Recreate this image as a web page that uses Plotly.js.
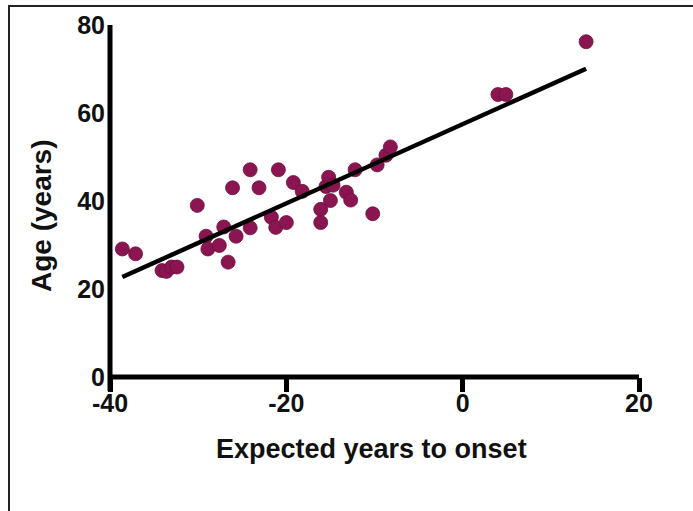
<!DOCTYPE html>
<html>
<head>
<meta charset="utf-8">
<script src="https://cdn.plot.ly/plotly-3.0.1.min.js"></script>
<style>
html,body{margin:0;padding:0;background:#fff;}
#chart{width:693px;height:511px;}
</style>
</head>
<body>
<div id="chart"></div>
<script>
// Expected years to onset (x) and age in years (y)
const yearsToOnset = [-38.6, -37.1, -34.1, -33.6, -33.0, -32.4, -30.1, -29.1, -28.9, -27.6,
  -27.1, -26.6, -26.1, -25.7, -24.1, -24.1, -23.1, -21.7, -21.2, -20.9,
  -20.0, -19.2, -18.2, -16.1, -16.1, -15.5, -15.2, -15.0, -14.7, -13.2,
  -12.7, -12.2, -10.2, -9.7, -8.7, -8.2, 4.0, 4.9, 14.0];
const ageYears = [29.1, 28.0, 24.2, 24.0, 25.0, 25.0, 39.0, 32.0, 29.1, 29.9,
  34.1, 26.1, 43.0, 32.0, 47.1, 33.9, 43.0, 36.3, 34.0, 47.1,
  35.1, 44.2, 42.2, 38.1, 35.1, 43.3, 45.4, 40.1, 43.6, 42.0,
  40.2, 47.1, 37.1, 48.2, 50.4, 52.3, 64.2, 64.2, 76.2];
const xTickVals = [-40, -20, 0, 20];
const yTickVals = [0, 20, 40, 60, 80];
const xTitle = 'Expected years to onset';
const yTitle = 'Age (years)';

// Least-squares fit
const n = yearsToOnset.length;
const mx = yearsToOnset.reduce((a, b) => a + b, 0) / n;
const my = ageYears.reduce((a, b) => a + b, 0) / n;
let sxy = 0, sxx = 0;
for (let i = 0; i < n; i++) {
  sxy += (yearsToOnset[i] - mx) * (ageYears[i] - my);
  sxx += (yearsToOnset[i] - mx) ** 2;
}
const slope = sxy / sxx;
const intercept = my - slope * mx;
const xMin = Math.min(...yearsToOnset), xMax = Math.max(...yearsToOnset);
const fitX = [xMin, xMax];
const fitY = fitX.map(v => intercept + slope * v);

const L = 110, R = 54, T = 25, B = 134;
const W = 693 - L - R, H = 511 - T - B;
const px = v => (v - L) / W;       // pixel x -> paper x
const py = v => (511 - B - v) / H; // pixel y -> paper y

const fam = 'Liberation Sans, Arial, sans-serif';
const font = {family: fam, color: '#111', weight: 'bold'};
const tickFont = {family: fam, size: 25, color: '#111', weight: 'bold'};

const traces = [
  {x: fitX, y: fitY, xaxis: 'x2', yaxis: 'y', mode: 'lines', type: 'scatter',
   line: {color: '#000', width: 4.5}, hoverinfo: 'skip'},
  {x: yearsToOnset, y: ageYears, mode: 'markers', type: 'scatter',
   marker: {color: '#8a1550', size: 14, line: {color: '#6e0f3e', width: 0.8}}}
];

const layout = {
  width: 693, height: 511,
  margin: {l: L, r: R, t: T, b: B, pad: 0},
  paper_bgcolor: '#fff', plot_bgcolor: 'rgba(0,0,0,0)',
  showlegend: false,
  font: font,
  // tick marks
  xaxis: {
    range: [-40, 20], tickvals: xTickVals,
    showgrid: false, zeroline: false, showline: false,
    ticks: 'outside', ticklen: 14, tickwidth: 5, tickcolor: '#000',
    showticklabels: false
  },
  // tick labels (same scale as xaxis)
  xaxis2: {
    overlaying: 'x', anchor: 'y', side: 'bottom',
    range: [-40, 20], tickvals: xTickVals, ticktext: xTickVals.map(String),
    showgrid: false, zeroline: false, showline: false,
    ticks: '', ticklabelstandoff: 9,
    tickfont: tickFont
  },
  yaxis: {
    range: [0, 80], tickvals: yTickVals, ticktext: yTickVals.map(String),
    showgrid: false, zeroline: false, showline: false,
    ticks: '', ticklabelstandoff: 4,
    tickfont: tickFont
  },
  shapes: [
    // x axis line
    {type: 'line', xref: 'paper', yref: 'paper', x0: 0, x1: 1, y0: 0, y1: 0,
     line: {color: '#000', width: 5}},
    // y axis line (extends below the x axis to the -40 tick)
    {type: 'line', xref: 'paper', yref: 'paper', x0: 0, x1: 0, y0: py(391), y1: 1,
     line: {color: '#000', width: 5}},
    // picture frame (top and left edges)
    {type: 'line', xref: 'paper', yref: 'paper', x0: px(8), x1: px(700), y0: py(6), y1: py(6),
     line: {color: '#222', width: 2}},
    {type: 'line', xref: 'paper', yref: 'paper', x0: px(9), x1: px(9), y0: py(6), y1: py(520),
     line: {color: '#222', width: 2}}
  ],
  annotations: [
    {text: xTitle, xref: 'paper', yref: 'paper', x: px(371), y: py(449),
     xanchor: 'center', yanchor: 'middle', showarrow: false,
     font: {family: fam, size: 27, color: '#111', weight: 'bold'}},
    {text: yTitle, xref: 'paper', yref: 'paper', x: px(41), y: py(216),
     xanchor: 'center', yanchor: 'middle', showarrow: false, textangle: -90,
     font: {family: fam, size: 28, color: '#111', weight: 'bold'}}
  ]
};

Plotly.newPlot('chart', traces, layout, {displayModeBar: false, staticPlot: true});
</script>
</body>
</html>
